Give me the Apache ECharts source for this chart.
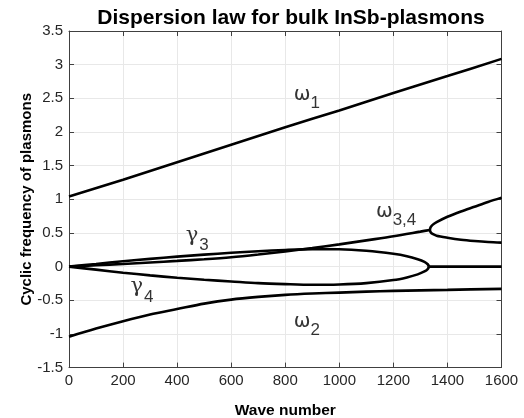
<!DOCTYPE html>
<html><head><meta charset="utf-8">
<script src="https://cdn.jsdelivr.net/npm/echarts@6/dist/echarts.min.js"></script>
<style>html,body{margin:0;padding:0;background:#fff}#c{width:524px;height:418px}</style>
</head><body><div id="c"></div>
<script>
var xTicks = [0,200,400,600,800,1000,1200,1400,1600];
var yTicks = [-1.5,-1,-0.5,0,0.5,1,1.5,2,2.5,3,3.5];
var omega1 = [[0,1.04],[200,1.29],[400,1.55],[600,1.81],[800,2.07],[1000,2.32],[1200,2.58],[1400,2.83],[1600,3.086]];
var omega2 = [[0,-1.04],[100,-0.92],[200,-0.81],[300,-0.71],[400,-0.63],[500,-0.55],[600,-0.49],[700,-0.45],[800,-0.42],[900,-0.40],[1000,-0.386],[1100,-0.372],[1200,-0.36],[1400,-0.345],[1600,-0.33]];
var omega34 = [[0,0],[100,0.02],[200,0.04],[300,0.062],[400,0.085],[500,0.11],[600,0.14],[700,0.18],[800,0.225],[900,0.275],[1000,0.33],[1100,0.39],[1200,0.45],[1300,0.52],[1335,0.545]];
var branchUp = [[1335,0.545],[1338,0.585],[1345,0.62],[1360,0.66],[1400,0.74],[1450,0.82],[1500,0.89],[1550,0.96],[1600,1.025]];
var branchLow = [[1335,0.545],[1338,0.51],[1345,0.485],[1360,0.46],[1400,0.43],[1450,0.40],[1500,0.38],[1550,0.365],[1600,0.357]];
var gamma3 = [[0,0],[100,0.04],[200,0.08],[300,0.115],[400,0.148],[500,0.178],[600,0.205],[700,0.228],[800,0.248],[900,0.26],[1000,0.258],[1100,0.235],[1200,0.19],[1250,0.155],[1290,0.11],[1315,0.07],[1327,0.035],[1332,0]];
var gamma4 = [[0,0],[100,-0.045],[200,-0.09],[300,-0.13],[400,-0.165],[500,-0.195],[600,-0.22],[700,-0.245],[800,-0.26],[900,-0.27],[1000,-0.265],[1100,-0.245],[1200,-0.2],[1250,-0.16],[1290,-0.115],[1315,-0.072],[1327,-0.036],[1332,0]];
var zeroLine = [[1332,0],[1600,0]];
var labelPos = [[880,2.51,'{w|ω}{s|1}'],[880,-0.87,'{w|ω}{s|2}'],[474,0.40,'{g|γ}{s|3}'],[270,-0.37,'{g|γ}{s|4}'],[1210,0.77,'{w|ω}{s|3,4}']];

var chart = echarts.init(document.getElementById('c'));
var lineS = function(d){return {type:'line',data:d,showSymbol:false,symbol:'none',smooth:0.3,lineStyle:{color:'#000',width:2.6},xAxisIndex:0,yAxisIndex:0,silent:true,animation:false};};
var axC = '#404040';
chart.setOption({
  animation:false,
  title:{text:'Dispersion law for bulk InSb-plasmons',left:286,textAlign:'center',top:3,textStyle:{fontFamily:'Liberation Sans',fontWeight:'bold',fontSize:21,color:'#000'}},
  grid:{left:69,right:22.5,top:31,bottom:50.4,containLabel:false,outerBoundsMode:'none'},
  xAxis:[{type:'value',min:0,max:1600,interval:200,name:'Wave number',nameLocation:'middle',nameGap:35,nameMoveOverlap:false,
    nameTextStyle:{fontFamily:'Liberation Sans',fontWeight:'bold',fontSize:15.5,color:'#000'},
    axisLine:{onZero:false,lineStyle:{color:axC,width:1}},axisTick:{inside:true,length:5,lineStyle:{color:axC}},
    axisLabel:{fontFamily:'Liberation Sans',fontSize:15,color:'#262626',margin:6,formatter:function(v){return xTicks.indexOf(v)>=0?String(v):'';}},
    splitLine:{show:true,lineStyle:{color:'#e8e8e8',width:1}}},
    {type:'value',position:'top',min:0,max:1600,interval:200,axisLine:{onZero:false,lineStyle:{color:axC}},axisTick:{inside:true,length:5,lineStyle:{color:axC}},axisLabel:{show:false},splitLine:{show:false}}],
  yAxis:[{type:'value',min:-1.5,max:3.5,interval:0.5,name:'Cyclic frequency of plasmons',nameLocation:'middle',nameGap:35,nameMoveOverlap:false,
    nameTextStyle:{fontFamily:'Liberation Sans',fontWeight:'bold',fontSize:15,color:'#000'},
    axisLine:{onZero:false,show:true,lineStyle:{color:axC,width:1}},axisTick:{show:true,inside:true,length:5,lineStyle:{color:axC}},
    axisLabel:{fontFamily:'Liberation Sans',fontSize:15,color:'#262626',margin:6,formatter:function(v){return yTicks.indexOf(v)>=0?String(v):'';}},
    splitLine:{show:true,lineStyle:{color:'#e8e8e8',width:1}}},
    {type:'value',position:'right',min:-1.5,max:3.5,interval:0.5,axisLine:{onZero:false,show:true,lineStyle:{color:axC}},axisTick:{show:true,inside:true,length:5,lineStyle:{color:axC}},axisLabel:{show:false},splitLine:{show:false}}],
  series:[lineS(omega1),lineS(omega2),lineS(omega34),lineS(branchUp),lineS(branchLow),lineS(gamma3),lineS(gamma4),lineS(zeroLine),
    {type:'scatter',symbolSize:0,silent:true,data:labelPos.map(function(p){return {value:[p[0],p[1]],label:{show:true,position:'inside',formatter:p[2]}};}),
     label:{color:'#000',rich:{w:{fontFamily:'DejaVu Sans',fontSize:20,color:'#000',lineHeight:30,verticalAlign:'top',padding:[2,0,0,0]},
       g:{fontFamily:'DejaVu Serif',fontSize:21,color:'#000',lineHeight:30,verticalAlign:'top',padding:[0,1,0,0]},
       s:{fontFamily:'Liberation Sans',fontSize:17,color:'#000',lineHeight:30,verticalAlign:'top',padding:[12,0,0,0]}}}}]
});
</script></body></html>
